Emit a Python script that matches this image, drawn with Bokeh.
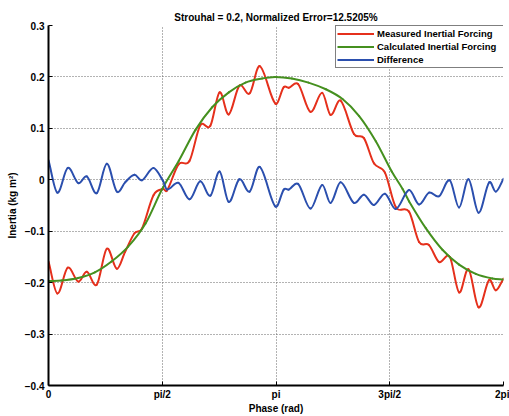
import math
import numpy as np
from bokeh.plotting import figure
from bokeh.models import FixedTicker, Range1d, Legend, LegendItem, ColumnDataSource
from bokeh.embed import file_html
from bokeh.resources import INLINE

title_text = "Strouhal = 0.2, Normalized Error=12.5205%"
x_label = "Phase (rad)"
y_label = "Inertia (kg m\u00b2)"
series_names = ["Measured Inertial Forcing", "Calculated Inertial Forcing", "Difference"]

x_tick_values = [0.0, math.pi / 2, math.pi, 3 * math.pi / 2, 2 * math.pi]
x_tick_labels = ["0", "pi/2", "pi", "3pi/2", "2pi"]
y_tick_values = [-0.4, -0.3, -0.2, -0.1, 0.0, 0.1, 0.2, 0.3]
y_tick_labels = ["\u22120.4", "\u22120.3", "\u22120.2", "\u22120.1", "0", "0.1", "0.2", "0.3"]

# Calculated inertial forcing (smooth curve)
calc_phase = [0.0, 0.18, 0.41, 0.64, 0.87, 1.10, 1.34, 1.57, 1.80, 2.03, 2.26, 2.49,
              2.72, 2.95, 3.13, 3.36, 3.59, 3.83, 4.06, 4.29, 4.52, 4.74, 4.89, 4.98,
              5.21, 5.44, 5.67, 5.90, 6.13, 6.2832]
calc_values = [-0.197, -0.196, -0.191, -0.180, -0.159, -0.130, -0.085, -0.018, 0.037,
               0.097, 0.141, 0.170, 0.189, 0.197, 0.200, 0.197, 0.189, 0.176, 0.157,
               0.124, 0.075, 0.016, -0.018, -0.042, -0.094, -0.136, -0.165, -0.183,
               -0.192, -0.194]

# Measured forcing and difference, read at the same phases (turning points)
wig_phase = [0.0, 0.122, 0.266, 0.412, 0.529, 0.667, 0.805, 0.944, 1.058, 1.187, 1.290,
             1.450, 1.584, 1.636, 1.796, 1.948, 2.096, 2.235, 2.363, 2.488, 2.636, 2.778,
             2.917, 3.134, 3.249, 3.318, 3.448, 3.618, 3.780, 3.895, 4.033, 4.218, 4.356,
             4.494, 4.646, 4.795, 4.979, 5.117, 5.255, 5.394, 5.542, 5.670, 5.800, 5.939,
             6.085, 6.178, 6.2832]
diff_values = [0.038, -0.025, 0.023, -0.0065, 0.0065, -0.026, 0.031, -0.023, -0.005, 0.0097,
               -0.001, 0.023, -0.003, -0.019, -0.006, -0.038, -0.003, -0.031, 0.016, -0.043,
               0.001, -0.023, 0.025, -0.052, -0.019, -0.019, -0.008, -0.056, -0.010, -0.045,
               -0.005, -0.045, -0.029, -0.049, -0.027, -0.057, -0.020, -0.048, -0.025, -0.032,
               -0.001, -0.054, 0.001, -0.064, -0.005, -0.023, 0.002]
meas_values = [-0.159, -0.221, -0.171, -0.198, -0.179, -0.204, -0.134, -0.173, -0.140, -0.104,
               -0.095, -0.030, -0.018, -0.021, 0.030, 0.037, 0.106, 0.105, 0.170, 0.127,
               0.183, 0.168, 0.221, 0.148, 0.180, 0.179, 0.186, 0.132, 0.169, 0.126,
               0.154, 0.089, 0.081, 0.032, 0.014, -0.053, -0.062, -0.121, -0.127, -0.160,
               -0.150, -0.219, -0.174, -0.248, -0.195, -0.215, -0.192]

colors = ["#e5301c", "#45901f", "#2b4fae"]
FONT = "Liberation Sans"


def smooth_segments(xs, ys):
    """Cubic Bezier segments (drawn by Bokeh) passing through the read points."""
    x = np.asarray(xs, float)
    y = np.asarray(ys, float)
    m = np.empty_like(y)
    m[1:-1] = (y[2:] - y[:-2]) / (x[2:] - x[:-2])
    m[0] = (y[1] - y[0]) / (x[1] - x[0])
    m[-1] = (y[-1] - y[-2]) / (x[-1] - x[-2])
    h = np.diff(x)
    return ColumnDataSource(dict(
        x0=x[:-1], y0=y[:-1], x1=x[1:], y1=y[1:],
        cx0=x[:-1] + h / 3, cy0=y[:-1] + m[:-1] * h / 3,
        cx1=x[1:] - h / 3, cy1=y[1:] - m[1:] * h / 3))


p = figure(width=509, height=416, output_backend="svg", toolbar_location=None,
           x_range=Range1d(0, 2 * math.pi), y_range=Range1d(-0.4, 0.3),
           min_border_left=48, min_border_right=6, min_border_top=25, min_border_bottom=29,
           title=title_text)
p.background_fill_color = "white"
p.border_fill_color = "white"
p.outline_line_color = None

p.title.text_font = FONT
p.title.text_font_size = "10px"
p.title.text_font_style = "bold"
p.title.align = "center"
p.title.standoff = 5
p.title.text_color = "black"

for ax in (p.xaxis[0], p.yaxis[0]):
    ax.axis_line_color = "black"
    ax.axis_line_width = 2
    ax.major_tick_in = 4
    ax.major_tick_out = 0
    ax.minor_tick_line_color = None
    ax.major_tick_line_color = "black"
    ax.major_tick_line_width = 1
    ax.major_label_text_font = FONT
    ax.major_label_text_font_size = "10px"
    ax.major_label_text_font_style = "bold"
    ax.major_label_text_color = "black"
    ax.axis_label_text_font = FONT
    ax.axis_label_text_font_size = "10px"
    ax.axis_label_text_font_style = "bold"
    ax.axis_label_text_color = "black"

p.xaxis.ticker = FixedTicker(ticks=x_tick_values)
p.xaxis.major_label_overrides = dict(zip(x_tick_values, x_tick_labels))
p.yaxis.ticker = FixedTicker(ticks=y_tick_values)
p.yaxis.major_label_overrides = dict(zip(y_tick_values, y_tick_labels))
p.xaxis.axis_label = x_label
p.yaxis.axis_label = y_label
p.xaxis.major_label_standoff = 3
p.xaxis.axis_label_standoff = 0
p.yaxis.major_label_standoff = 4
p.yaxis.axis_label_standoff = 4

for g in (p.xgrid[0], p.ygrid[0]):
    g.grid_line_color = "#666666"
    g.grid_line_dash = "1 2"
    g.grid_line_width = 1

curves = [(wig_phase, meas_values), (calc_phase, calc_values), (wig_phase, diff_values)]
legend_items = []
for (xs, ys), col, name in zip(curves, colors, series_names):
    src = smooth_segments(xs, ys)
    p.bezier(x0="x0", y0="y0", x1="x1", y1="y1", cx0="cx0", cy0="cy0",
             cx1="cx1", cy1="cy1", source=src, line_color=col, line_width=2,
             line_cap="round")
    # single-point line: draws nothing in the plot, provides the legend swatch
    key = p.line(x=[xs[0]], y=[ys[0]], line_color=col, line_width=2)
    legend_items.append(LegendItem(label=name, renderers=[key]))

legend = Legend(items=legend_items, location=(287, 317))
legend.border_line_color = "black"
legend.border_line_width = 1
legend.background_fill_color = "white"
legend.background_fill_alpha = 1
legend.padding = 1
legend.spacing = 0
legend.margin = 0
legend.glyph_width = 37
legend.glyph_height = 13
legend.label_height = 13
legend.label_standoff = 3
legend.label_width = 126
legend.label_text_font = FONT
legend.label_text_font_size = "9.5px"
legend.label_text_font_style = "bold"
legend.label_text_color = "black"
p.add_layout(legend)

open("out.html", "w").write(file_html(p, INLINE))
